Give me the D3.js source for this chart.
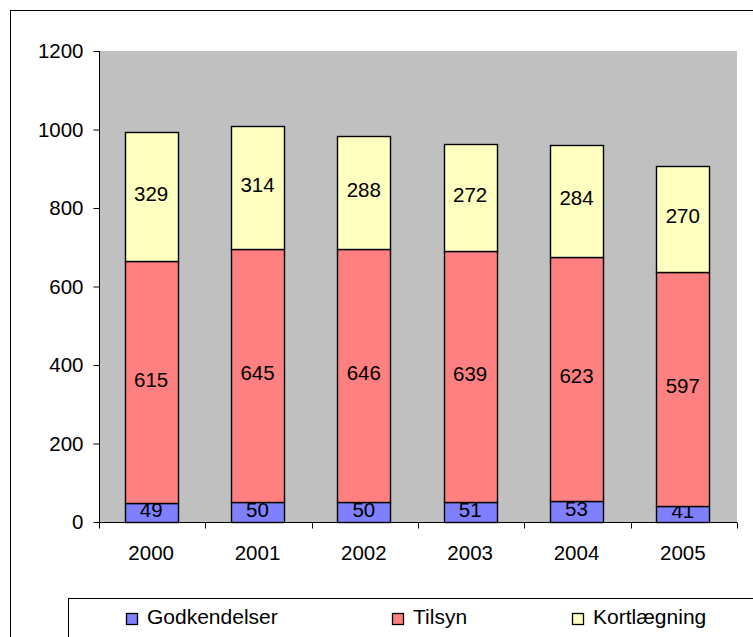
<!DOCTYPE html>
<html>
<head>
<meta charset="utf-8">
<script src="https://cdn.jsdelivr.net/npm/d3@7"></script>
<style>
body { margin: 0; background: #fff; }
text { font-family: "Liberation Sans", Arial, sans-serif; }
</style>
</head>
<body>
<div id="chart"></div>
<script>
const years = ["2000", "2001", "2002", "2003", "2004", "2005"];
const godkendelser = [49, 50, 50, 51, 53, 41];
const tilsyn = [615, 645, 646, 639, 623, 597];
const kortlaegning = [329, 314, 288, 272, 284, 270];
const seriesNames = ["Godkendelser", "Tilsyn", "Kortlægning"];
const colors = ["#8080FF", "#FF8080", "#FFFFC0"];
const yTicks = [0, 200, 400, 600, 800, 1000, 1200];

const width = 753, height = 637;
const plot = { left: 99, top: 51, right: 737, bottom: 522 };

const svg = d3.select("#chart").append("svg")
    .attr("width", width)
    .attr("height", height);

// outer chart border (runs off the right and bottom edges)
svg.append("rect")
    .attr("x", 10.5).attr("y", 10.5)
    .attr("width", 760).attr("height", 640)
    .attr("fill", "white").attr("stroke", "black").attr("stroke-width", 1);

const x = d3.scaleBand().domain(years).range([plot.left, plot.right]).paddingInner(0.5).paddingOuter(0.25);
const y = d3.scaleLinear().domain([0, 1200]).range([plot.bottom, plot.top]);

svg.append("rect")
    .attr("x", plot.left).attr("y", plot.top)
    .attr("width", plot.right - plot.left).attr("height", plot.bottom - plot.top)
    .attr("fill", "#C0C0C0");

const table = years.map((yr, i) => ({ year: yr, Godkendelser: godkendelser[i], Tilsyn: tilsyn[i], "Kortlægning": kortlaegning[i] }));
const stacked = d3.stack().keys(seriesNames)(table);

const layers = svg.selectAll("g.layer")
    .data(stacked)
    .join("g")
    .attr("class", "layer")
    .attr("fill", (d, i) => colors[i]);

layers.selectAll("rect")
    .data(d => d)
    .join("rect")
    .attr("x", d => Math.round(x(d.data.year)) - 1 + 0.5)
    .attr("y", d => Math.round(y(d[1])) + 0.5)
    .attr("width", Math.round(x.bandwidth()))
    .attr("height", d => Math.round(y(d[0])) - Math.round(y(d[1])))
    .attr("stroke", "black")
    .attr("stroke-width", 1.4);

layers.selectAll("text")
    .data(d => d)
    .join("text")
    .attr("x", d => x(d.data.year) - 1 + x.bandwidth() / 2)
    .attr("y", d => (y(d[0]) + y(d[1])) / 2)
    .attr("dy", "0.22em")
    .attr("text-anchor", "middle")
    .attr("font-size", 20.5)
    .attr("fill", "black")
    .text(d => d[1] - d[0]);

// y axis
const yAxis = svg.append("g")
    .attr("transform", `translate(${plot.left + 0.5},0)`)
    .call(d3.axisLeft(y).tickValues(yTicks).tickSize(6).tickPadding(10).tickFormat(d3.format("d")));
yAxis.select(".domain").attr("d", `M0,${plot.top}V${plot.bottom}`);
yAxis.selectAll("text").attr("font-size", 20.5).attr("font-family", "Liberation Sans, Arial, sans-serif").attr("fill", "black");

// x axis
const step = (plot.right - plot.left) / years.length;
const xAxis = svg.append("g")
    .attr("transform", `translate(0,${plot.bottom + 0.5})`);
xAxis.append("line")
    .attr("x1", plot.left).attr("x2", plot.right)
    .attr("stroke", "black");
xAxis.selectAll("line.tick")
    .data(d3.range(years.length + 1))
    .join("line")
    .attr("class", "tick")
    .attr("x1", i => Math.round(plot.left + i * step) + 0.5)
    .attr("x2", i => Math.round(plot.left + i * step) + 0.5)
    .attr("y1", 0).attr("y2", 6)
    .attr("stroke", "black");
xAxis.selectAll("text")
    .data(years)
    .join("text")
    .attr("x", d => x(d) - 1 + x.bandwidth() / 2)
    .attr("y", 37)
    .attr("text-anchor", "middle")
    .attr("font-size", 20.5)
    .text(d => d);

// legend
const legend = svg.append("g");
legend.append("rect")
    .attr("x", 68.5).attr("y", 598.5)
    .attr("width", 700).attr("height", 60)
    .attr("fill", "white").attr("stroke", "black");
const legendX = [126, 392, 572];
const items = legend.selectAll("g.item")
    .data(seriesNames)
    .join("g")
    .attr("class", "item")
    .attr("transform", (d, i) => `translate(${legendX[i]},619)`);
items.append("rect")
    .attr("x", 0.5).attr("y", -5.5)
    .attr("width", 11).attr("height", 11)
    .attr("fill", (d, i) => colors[i])
    .attr("stroke", "black")
    .attr("stroke-width", 1.3);
items.append("text")
    .attr("x", 21).attr("y", 5)
    .attr("font-size", 21)
    .text(d => d);
</script>
</body>
</html>
